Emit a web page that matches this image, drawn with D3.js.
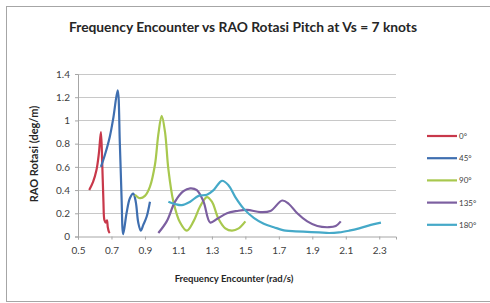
<!DOCTYPE html>
<html>
<head>
<meta charset="utf-8">
<script src="https://cdn.jsdelivr.net/npm/d3@7"></script>
<style>
  body { margin: 0; background: #fff; }
  text { font-family: Lato, "Open Sans", sans-serif; }
</style>
</head>
<body>
<svg id="chart" width="490" height="303"></svg>
<script>
// series values: [frequency encounter, RAO]
const deg0 = [[0.567,0.40],[0.59,0.47],[0.61,0.57],[0.625,0.72],[0.637,0.90],[0.645,0.62],[0.652,0.30],[0.658,0.14],[0.666,0.12],[0.673,0.14],[0.678,0.08],[0.685,0.04],[0.69,0.03]];
const deg45 = [[0.637,0.60],[0.66,0.70],[0.69,0.86],[0.712,1.03],[0.737,1.26],[0.75,0.80],[0.76,0.35],[0.77,0.02],[0.79,0.20],[0.81,0.33],[0.83,0.37],[0.845,0.30],[0.86,0.12],[0.875,0.05],[0.89,0.10],[0.91,0.17],[0.93,0.30]];
const deg90 = [[0.84,0.36],[0.87,0.33],[0.90,0.35],[0.93,0.43],[0.96,0.62],[0.98,0.88],[1.0,1.04],[1.02,0.90],[1.04,0.58],[1.07,0.30],[1.11,0.12],[1.15,0.05],[1.19,0.13],[1.23,0.26],[1.27,0.34],[1.30,0.30],[1.34,0.15],[1.38,0.07],[1.42,0.05],[1.46,0.07],[1.50,0.13]];
const deg135 = [[0.98,0.03],[1.03,0.13],[1.08,0.30],[1.13,0.39],[1.17,0.415],[1.21,0.40],[1.25,0.30],[1.29,0.12],[1.33,0.15],[1.39,0.20],[1.45,0.22],[1.51,0.23],[1.59,0.21],[1.65,0.22],[1.72,0.31],[1.76,0.28],[1.81,0.20],[1.87,0.13],[1.93,0.09],[2.0,0.08],[2.04,0.09],[2.07,0.13]];
const deg180 = [[1.04,0.30],[1.08,0.28],[1.12,0.27],[1.17,0.30],[1.22,0.35],[1.27,0.36],[1.31,0.40],[1.36,0.48],[1.40,0.44],[1.44,0.34],[1.49,0.24],[1.55,0.16],[1.61,0.11],[1.67,0.08],[1.74,0.05],[1.80,0.045],[1.87,0.04],[1.94,0.035],[2.0,0.03],[2.06,0.035],[2.12,0.05],[2.18,0.07],[2.25,0.10],[2.31,0.12]];

const seriesNames = ['0°', '45°', '90°', '135°', '180°'];
const seriesData = [deg0, deg45, deg90, deg135, deg180];
const colors = ['#c8384a', '#3f6fb0', '#a8c84e', '#7c5fa0', '#45a9c8'];

const xTicks = [0.5, 0.7, 0.9, 1.1, 1.3, 1.5, 1.7, 1.9, 2.1, 2.3];
const yTicks = [0, 0.2, 0.4, 0.6, 0.8, 1, 1.2, 1.4];

const svg = d3.select('#chart');

// chart frame
svg.append('rect').attr('x', 6.5).attr('y', 6.5).attr('width', 490).attr('height', 295)
  .attr('fill', '#fff').attr('stroke', '#a6a6a6');

const x = d3.scaleLinear().domain([0.5, 2.4]).range([78, 396]);
const y = d3.scaleLinear().domain([0, 1.4]).range([236.5, 74]);

// gridlines
svg.append('g').selectAll('line').data(yTicks.slice(1)).enter().append('line')
  .attr('x1', x(0.5)).attr('x2', x(2.4))
  .attr('y1', d => Math.round(y(d)) + 0.5).attr('y2', d => Math.round(y(d)) + 0.5)
  .attr('stroke', '#c8c8c8');

const yAxis = svg.append('g').attr('transform', `translate(${x(0.5)},0)`)
  .call(d3.axisLeft(y).tickValues(yTicks).tickSize(3).tickPadding(5).tickFormat(d3.format('')));
const xAxis = svg.append('g').attr('transform', `translate(0,${y(0)})`)
  .call(d3.axisBottom(x).tickValues(xTicks).tickSize(3).tickPadding(7).tickFormat(d3.format('')));

[xAxis, yAxis].forEach(a => {
  a.selectAll('path, line').attr('stroke', '#a6a6a6');
  a.selectAll('text').attr('fill', '#404040').style('font-size', '10px');
});

const line = d3.line().x(d => x(d[0])).y(d => y(d[1])).curve(d3.curveCatmullRom.alpha(0.5));

svg.append('g').selectAll('path').data(seriesData).enter().append('path')
  .attr('d', line).attr('fill', 'none')
  .attr('stroke', (d, i) => colors[i]).attr('stroke-width', 2.2)
  .attr('stroke-linejoin', 'round');

// titles
svg.append('text').attr('x', 243).attr('y', 32).attr('text-anchor', 'middle')
  .style('font-size', '13.8px').style('font-weight', 'bold').attr('fill', '#262626')
  .text('Frequency Encounter vs RAO Rotasi Pitch at Vs = 7 knots');
svg.append('text').attr('x', 234).attr('y', 282).attr('text-anchor', 'middle')
  .style('font-size', '9.5px').style('font-weight', 'bold').attr('fill', '#262626')
  .text('Frequency Encounter (rad/s)');
svg.append('text').attr('transform', 'translate(38,154) rotate(-90)').attr('text-anchor', 'middle')
  .style('font-size', '11px').style('font-weight', 'bold').attr('fill', '#262626')
  .text('RAO Rotasi (deg/m)');

// legend
const legend = svg.append('g').selectAll('g').data(seriesNames).enter().append('g')
  .attr('transform', (d, i) => `translate(427,${136 + i * 22.2})`);
legend.append('line').attr('x1', 0).attr('x2', 30)
  .attr('stroke', (d, i) => colors[i]).attr('stroke-width', 2.2);
legend.append('text').attr('x', 32).attr('y', 3).style('font-size', '8px')
  .attr('fill', '#404040').text(d => d);
</script>
</body>
</html>
